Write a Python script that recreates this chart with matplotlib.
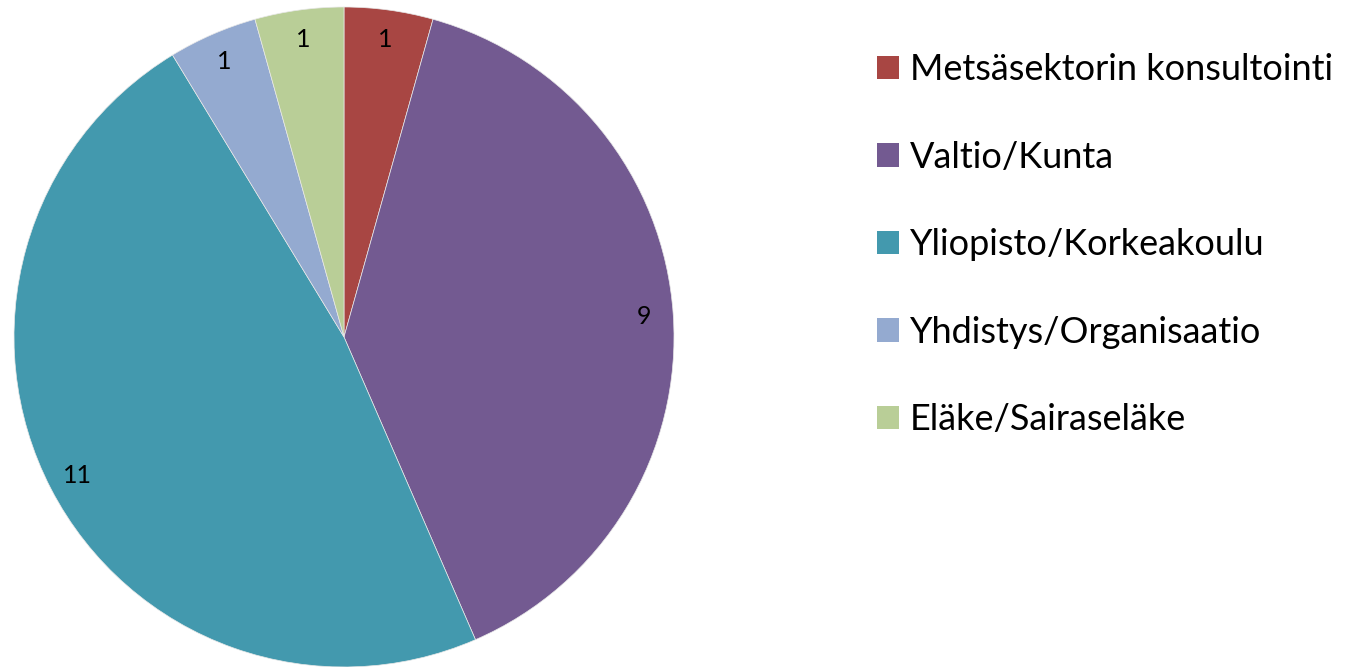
import matplotlib.pyplot as plt
from matplotlib.patches import Patch

plt.rcParams['font.family'] = ['Lato', 'DejaVu Sans']

categories = ["Metsäsektorin konsultointi", "Valtio/Kunta", "Yliopisto/Korkeakoulu",
              "Yhdistys/Organisaatio", "Eläke/Sairaseläke"]
values = [1, 9, 11, 1, 1]
colors = ["#A84643", "#735A91", "#4399AE", "#94AAD0", "#B9CE97"]

fig = plt.figure(figsize=(13.48, 6.67), dpi=100)
ax = fig.add_axes([14 / 1348, 0, 660 / 1348, 660 / 667])

wedges, texts = ax.pie(values, colors=colors, startangle=90, counterclock=False,
                       labels=[str(v) for v in values], labeldistance=0.91,
                       wedgeprops=dict(linewidth=0.5, edgecolor="#e8e8e8"),
                       textprops=dict(fontsize=18, color="black"))
for t in texts:
    t.set_horizontalalignment("center")
    t.set_verticalalignment("center")
ax.set_xlim(-1, 1)
ax.set_ylim(-1, 1)
ax.set_aspect("equal")
ax.axis("off")

handles = [Patch(facecolor=c, edgecolor="none") for c in colors]
fig.legend(handles, categories, loc="upper left", bbox_to_anchor=(877 / 1348, 1 - 53 / 667),
           frameon=False, fontsize=26, handlelength=0.62, handleheight=0.62,
           handletextpad=0.3, labelspacing=1.51, borderpad=0, borderaxespad=0)

fig.savefig("out.png", dpi=100)
